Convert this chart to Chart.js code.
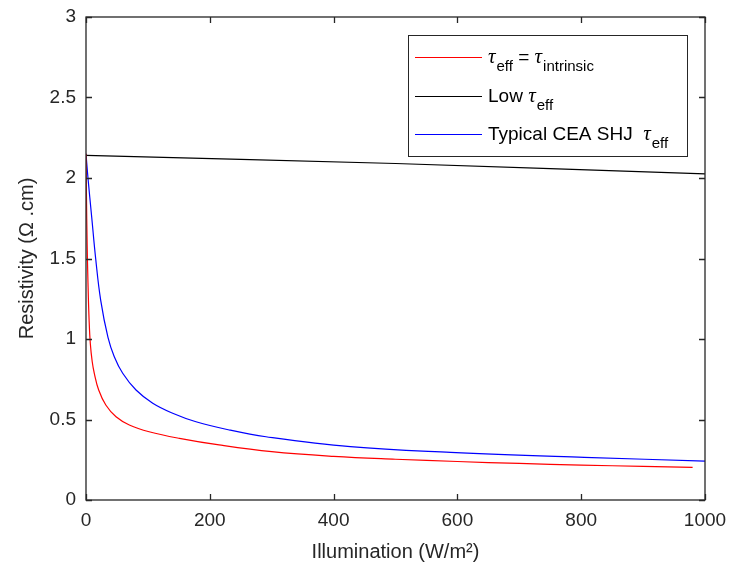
<!DOCTYPE html>
<html>
<head>
<meta charset="utf-8">
<script src="https://cdn.jsdelivr.net/npm/chart.js@4"></script>
<style>
  body { margin: 0; background: #fff; }
</style>
</head>
<body>
<canvas id="mainChart" width="731" height="572"></canvas>
<script>
// --- DATA ---
const xTicks = [0, 200, 400, 600, 800, 1000];
const yTicks = [0, 0.5, 1, 1.5, 2, 2.5, 3];

const intrinsicX = [0, 0.7, 1.8, 3.2, 5, 7, 10, 13.4, 20.5, 32, 48.5, 70, 102, 151, 215, 300, 400, 500, 600, 700, 800, 900, 980];
const intrinsicY = [2.15, 1.9, 1.6, 1.35, 1.12, 0.97, 0.86, 0.787, 0.683, 0.59, 0.517, 0.466, 0.424, 0.383, 0.342, 0.3, 0.271, 0.253, 0.239, 0.227, 0.217, 0.209, 0.203];

const lowX = [0, 500, 1000];
const lowY = [2.14, 2.09, 2.025];

const ceaX = [0, 3.2, 9.2, 15.7, 23.7, 35.5, 45.7, 59.3, 80.8, 107.8, 140, 177.7, 231.5, 290.8, 427, 589, 805, 1000];
const ceaY = [2.15, 2.0, 1.758, 1.497, 1.242, 1.01, 0.89, 0.787, 0.683, 0.601, 0.539, 0.486, 0.435, 0.393, 0.331, 0.296, 0.265, 0.242];

const seriesLabels = ['τeff = τintrinsic', 'Low τeff', 'Typical CEA SHJ τeff'];
const seriesColors = ['#ff0000', '#000000', '#0000ff'];

// legend text pieces: [text, kind] kind = n (normal), g (greek), s (subscript)
const legendParts = [
    [['τ', 'g'], ['eff', 's'], [' = ', 'n'], ['τ', 'g'], ['intrinsic', 's']],
    [['Low ', 'n'], ['τ', 'g'], ['eff', 's']],
    [['Typical CEA SHJ  ', 'n'], ['τ', 'g'], ['eff', 's']]
];

const AXIS_COLOR = '#262626';
const FONT = 'Liberation Sans, Arial, sans-serif';

function toPoints(xs, ys) {
    return xs.map((x, i) => ({ x: x, y: ys[i] }));
}

// --- BOX + INWARD TICKS ---
const boxPlugin = {
    id: 'boxPlugin',
    afterDatasetsDraw(chart) {
        const ctx = chart.ctx;
        const a = chart.chartArea;
        const sx = chart.scales.x, sy = chart.scales.y;
        ctx.save();
        ctx.strokeStyle = AXIS_COLOR;
        ctx.lineWidth = 1.3;
        ctx.strokeRect(a.left, a.top, a.right - a.left, a.bottom - a.top);
        ctx.beginPath();
        xTicks.forEach(v => {
            const px = Math.round(sx.getPixelForValue(v)) + 0.5;
            ctx.moveTo(px, a.bottom); ctx.lineTo(px, a.bottom - 6);
            ctx.moveTo(px, a.top); ctx.lineTo(px, a.top + 6);
        });
        yTicks.forEach(v => {
            const py = Math.round(sy.getPixelForValue(v)) + 0.5;
            ctx.moveTo(a.left, py); ctx.lineTo(a.left + 6, py);
            ctx.moveTo(a.right, py); ctx.lineTo(a.right - 6, py);
        });
        ctx.stroke();
        ctx.restore();
    }
};

// --- LEGEND WITH SUBSCRIPTS ---
const legendPlugin = {
    id: 'legendPlugin',
    afterDraw(chart) {
        const ctx = chart.ctx;
        const bx = 408, by = 35, bw = 279, bh = 121;
        const rows = [57, 96, 134];
        ctx.save();
        ctx.fillStyle = '#fff';
        ctx.fillRect(bx, by, bw, bh);
        ctx.strokeStyle = AXIS_COLOR;
        ctx.lineWidth = 1;
        ctx.strokeRect(bx + 0.5, by + 0.5, bw, bh);

        chart.data.datasets.forEach((ds, i) => {
            const y = rows[i];
            ctx.strokeStyle = ds.borderColor;
            ctx.lineWidth = 1;
            ctx.beginPath();
            ctx.moveTo(415, y + 0.5);
            ctx.lineTo(482, y + 0.5);
            ctx.stroke();

            let x = 488;
            const base = y + 6;
            ctx.fillStyle = '#000';
            ctx.textBaseline = 'alphabetic';
            ctx.textAlign = 'left';
            legendParts[i].forEach(p => {
                const txt = p[0], kind = p[1];
                let dy = 0;
                if (kind === 'g') ctx.font = 'italic 21px "Liberation Serif", serif';
                else if (kind === 's') { ctx.font = '15px ' + FONT; dy = 8; }
                else ctx.font = '19px ' + FONT;
                ctx.fillText(txt, x, base + dy);
                x += ctx.measureText(txt).width + (kind === 'g' ? 1 : 0);
            });
        });
        ctx.restore();
    }
};

// --- CHART ---
const tickFont = { family: FONT, size: 19 };
const ctx = document.getElementById('mainChart').getContext('2d');

new Chart(ctx, {
    type: 'scatter',
    data: {
        datasets: [
            { label: seriesLabels[0], data: toPoints(intrinsicX, intrinsicY), borderColor: seriesColors[0] },
            { label: seriesLabels[1], data: toPoints(lowX, lowY), borderColor: seriesColors[1] },
            { label: seriesLabels[2], data: toPoints(ceaX, ceaY), borderColor: seriesColors[2] }
        ].map(d => Object.assign(d, {
            showLine: true,
            pointRadius: 0,
            borderWidth: 1.2,
            tension: 0.4,
            fill: false
        }))
    },
    options: {
        responsive: false,
        animation: false,
        layout: { padding: { left: 0, top: 17, right: 26, bottom: 0 } },
        plugins: { legend: { display: false }, tooltip: { enabled: false } },
        scales: {
            x: {
                type: 'linear', min: 0, max: 1000,
                afterBuildTicks: s => { s.ticks = xTicks.map(v => ({ value: v })); },
                ticks: { padding: 9, color: AXIS_COLOR, font: tickFont, callback: v => String(v) },
                grid: { display: false, drawTicks: false },
                border: { display: false },
                title: { display: true, text: 'Illumination (W/m²)', color: AXIS_COLOR, font: { family: FONT, size: 20 }, padding: { top: 0, bottom: 8 } },
                afterFit: s => { s.height = 72; s.paddingLeft = 0; s.paddingRight = 0; }
            },
            y: {
                type: 'linear', min: 0, max: 3,
                afterBuildTicks: s => { s.ticks = yTicks.map(v => ({ value: v })); },
                ticks: { padding: 10, color: AXIS_COLOR, font: tickFont, callback: v => String(v) },
                grid: { display: false, drawTicks: false },
                border: { display: false },
                title: { display: true, text: 'Resistivity (Ω .cm)', color: AXIS_COLOR, font: { family: FONT, size: 20 }, padding: { top: 15, bottom: 0 } },
                afterFit: s => { s.width = 86; s.paddingTop = 0; s.paddingBottom = 0; }
            }
        }
    },
    plugins: [boxPlugin, legendPlugin]
});
</script>
</body>
</html>
